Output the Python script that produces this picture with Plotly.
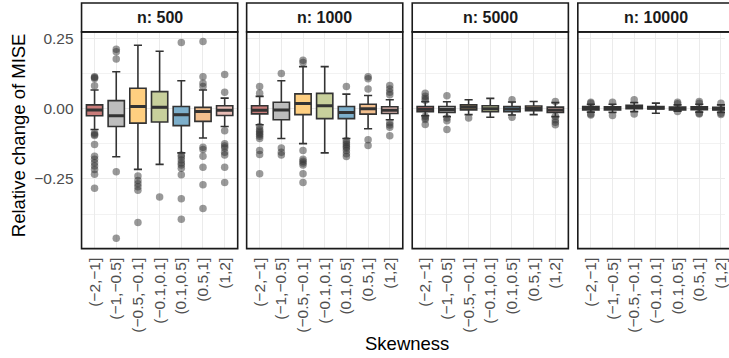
import plotly.graph_objects as go

# Skewness bins on the x axis of every panel
categories = ["(\u22122,\u22121]", "(\u22121,\u22120.5]", "(\u22120.5,\u22120.1]",
              "(\u22120.1,0.1]", "(0.1,0.5]", "(0.5,1]", "(1,2]"]
sample_sizes = [500, 1000, 5000, 10000]
box_colors = ["#C97C7A", "#BDBDBD", "#FFCF80", "#C8D09C", "#7DAFCB", "#F2BF8E", "#E8BDB6"]

# Five-number summaries of the relative change of MISE, one list per sample size
q1 = {
    500: [-0.025, -0.063, -0.051, -0.047, -0.060, -0.045, -0.024],
    1000: [-0.018, -0.039, -0.021, -0.035, -0.035, -0.019, -0.017],
    5000: [-0.010, -0.013, -0.004, -0.010, -0.010, -0.007, -0.013],
    10000: [-0.004, -0.004, 0.000, -0.001, -0.004, -0.003, -0.004],
}
median = {
    500: [-0.004, -0.025, 0.008, 0.005, -0.021, -0.010, -0.005],
    1000: [-0.005, -0.004, 0.019, 0.011, -0.013, 0.000, -0.005],
    5000: [-0.002, -0.003, 0.005, 0.000, -0.001, 0.001, -0.004],
    10000: [0.002, 0.001, 0.005, 0.003, 0.001, 0.002, 0.000],
}
q3 = {
    500: [0.014, 0.029, 0.073, 0.061, 0.008, 0.005, 0.011],
    1000: [0.011, 0.023, 0.053, 0.055, 0.008, 0.016, 0.007],
    5000: [0.008, 0.008, 0.014, 0.011, 0.008, 0.010, 0.006],
    10000: [0.008, 0.007, 0.012, 0.008, 0.006, 0.007, 0.005],
}
whisker_low = {
    500: [-0.074, -0.171, -0.216, -0.198, -0.157, -0.104, -0.063],
    1000: [-0.057, -0.106, -0.124, -0.157, -0.106, -0.071, -0.039],
    5000: [-0.025, -0.028, -0.021, -0.030, -0.022, -0.021, -0.028],
    10000: [-0.012, -0.013, -0.010, -0.016, -0.009, -0.012, -0.013],
}
whisker_high = {
    500: [0.067, 0.132, 0.226, 0.205, 0.100, 0.067, 0.038],
    1000: [0.044, 0.100, 0.150, 0.150, 0.052, 0.047, 0.032],
    5000: [0.025, 0.025, 0.032, 0.037, 0.024, 0.026, 0.022],
    10000: [0.016, 0.016, 0.022, 0.020, 0.014, 0.016, 0.014],
}

# Outlying values per sample size, one list per skewness bin
outliers = {
    500: [
        [0.114, 0.111, 0.108, 0.082, -0.086, -0.092, -0.095, -0.127, -0.169, -0.180,
         -0.192, -0.204, -0.216, -0.233, -0.283],
        [0.212, 0.203, 0.177, -0.224, -0.461],
        [-0.239, -0.255, -0.267, -0.278, -0.290, -0.405],
        [-0.314],
        [0.236, -0.165, -0.172, -0.182, -0.193, -0.200, -0.212, -0.235, -0.320, -0.393],
        [0.240, 0.114, 0.091, 0.079, -0.137, -0.145, -0.169, -0.208, -0.271, -0.355],
        [0.122, 0.059, -0.078, -0.125, -0.133, -0.140, -0.155, -0.165, -0.208, -0.263],
    ],
    1000: [
        [0.079, 0.055, -0.063, -0.074, -0.080, -0.086, -0.092, -0.098, -0.106, -0.149,
         -0.163, -0.231],
        [0.126, -0.140, -0.155, -0.165],
        [0.173, 0.165, -0.149, -0.180, -0.187, -0.193, -0.200, -0.231, -0.263],
        [],
        [0.079, -0.113, -0.120, -0.127, -0.134, -0.140, -0.149, -0.160, -0.170],
        [0.114, 0.107, 0.070, -0.110, -0.131],
        [0.083, 0.070, 0.059, 0.050, -0.050, -0.058, -0.066, -0.096],
    ],
    5000: [
        [0.055, 0.045, 0.037, 0.030, -0.027, -0.033, -0.038, -0.056],
        [0.046, -0.033, -0.043, -0.074],
        [-0.033],
        [],
        [0.032, -0.030],
        [],
        [0.026, -0.027, -0.039, -0.048, -0.057],
    ],
    10000: [
        [0.023, 0.020, -0.019, -0.022],
        [0.023, -0.024],
        [0.032, -0.019],
        [],
        [0.023, 0.018, -0.010],
        [0.026, 0.020, -0.016, -0.019],
        [0.020, -0.016, -0.020],
    ],
}

y_ticks = [-0.25, 0.0, 0.25]
y_ticktext = ["\u22120.25", "0.00", "0.25"]
y_minor = [-0.375, -0.125, 0.125]

# ---- page geometry (pixels) ----
W, H = 729, 358
panel_left = [82, 248, 414.5, 581]
panel_width = 157
panel_top, panel_bottom = 30, 248
strip_top = 1
cat_lo, cat_hi = -0.6, len(categories) - 0.4
BOX_WIDTH = 0.75

FONT = "Liberation Sans, Arial, Helvetica, sans-serif"
TICK_SIZE = 15.5
TITLE_SIZE = 18.5
LINE_DARK = "#333333"


def px_x(p):
    return p / W


def px_y(p):
    return 1 - p / H


fig = go.Figure()
layout = dict(
    width=W, height=H,
    margin=dict(l=0, r=0, t=0, b=0),
    paper_bgcolor="white", plot_bgcolor="white",
    showlegend=False,
    font=dict(family=FONT, color="#4D4D4D"),
    shapes=[], annotations=[],
)

for k, n in enumerate(sample_sizes):
    sfx = "" if k == 0 else str(k + 1)
    xref, yref = "x" + sfx, "y" + sfx
    left = panel_left[k]
    right = left + panel_width
    vis_right = min(right, W)
    x_range_hi = cat_lo + (cat_hi - cat_lo) * (vis_right - left) / panel_width

    layout["xaxis" + sfx] = dict(
        domain=[px_x(left), px_x(vis_right)], anchor=yref,
        range=[cat_lo, x_range_hi],
        tickmode="array", tickvals=list(range(len(categories))), ticktext=categories,
        tickangle=-90, tickfont=dict(family=FONT, size=TICK_SIZE, color="#4D4D4D"),
        ticklabeloverflow="allow", ticklabelstandoff=5,
        showgrid=True, gridcolor="#EBEBEB", gridwidth=1.1, zeroline=False,
        showline=False, ticks="", fixedrange=True,
    )
    layout["yaxis" + sfx] = dict(
        domain=[px_y(panel_bottom), px_y(panel_top)], anchor=xref,
        range=[-0.498, 0.274],
        tickmode="array", tickvals=y_ticks, ticktext=y_ticktext,
        showticklabels=(k == 0), ticklabelstandoff=7,
        tickfont=dict(family=FONT, size=TICK_SIZE, color="#4D4D4D"),
        showgrid=True, gridcolor="#EBEBEB", gridwidth=1.1, zeroline=False,
        minor=dict(tickmode="array", tickvals=y_minor, showgrid=True,
                   gridcolor="#F2F2F2", gridwidth=0.6),
        showline=False, ticks="", fixedrange=True,
    )

    for i, cat in enumerate(categories):
        fig.add_trace(go.Box(
            x=[i], q1=[q1[n][i]], median=[median[n][i]], q3=[q3[n][i]],
            lowerfence=[whisker_low[n][i]], upperfence=[whisker_high[n][i]],
            width=BOX_WIDTH, fillcolor=box_colors[i],
            line=dict(color=LINE_DARK, width=1.6),
            boxpoints=False, xaxis=xref, yaxis=yref, hoverinfo="skip",
        ))

    # heavier median bars across each box
    mx, my = [], []
    for i, m in enumerate(median[n]):
        mx += [i - BOX_WIDTH / 2, i + BOX_WIDTH / 2, None]
        my += [m, m, None]
    fig.add_trace(go.Scatter(
        x=mx, y=my, mode="lines", line=dict(color=LINE_DARK, width=3),
        xaxis=xref, yaxis=yref, hoverinfo="skip",
    ))

    ox, oy = [], []
    for i, vals in enumerate(outliers[n]):
        ox += [i] * len(vals)
        oy += vals
    fig.add_trace(go.Scatter(
        x=ox, y=oy, mode="markers",
        marker=dict(color="rgba(51,51,51,0.5)", size=7.5, line=dict(width=0)),
        xaxis=xref, yaxis=yref, hoverinfo="skip",
    ))

    # panel border
    layout["shapes"].append(dict(
        type="rect", xref="paper", yref="paper",
        x0=px_x(left), x1=px_x(right), y0=px_y(panel_bottom), y1=px_y(panel_top),
        line=dict(color="#1A1A1A", width=1.6), fillcolor="rgba(0,0,0,0)", layer="above",
    ))
    # strip
    layout["shapes"].append(dict(
        type="rect", xref="paper", yref="paper",
        x0=px_x(left), x1=px_x(right), y0=px_y(panel_top), y1=px_y(strip_top),
        line=dict(color="#1A1A1A", width=1.6), fillcolor="white", layer="above",
    ))
    layout["annotations"].append(dict(
        text=f"<b>n: {n}</b>", xref="paper", yref="paper",
        x=px_x((left + right) / 2), y=px_y((strip_top + panel_top) / 2),
        xanchor="center", yanchor="middle", showarrow=False,
        font=dict(family=FONT, size=16, color="#1A1A1A"),
    ))

# axis titles
layout["annotations"].append(dict(
    text="Relative change of MISE", xref="paper", yref="paper",
    x=px_x(18), y=px_y(134), textangle=-90,
    xanchor="center", yanchor="middle", showarrow=False,
    font=dict(family=FONT, size=TITLE_SIZE, color="black"),
))
layout["annotations"].append(dict(
    text="Skewness", xref="paper", yref="paper",
    x=px_x(409), y=px_y(343),
    xanchor="center", yanchor="middle", showarrow=False,
    font=dict(family=FONT, size=TITLE_SIZE, color="black"),
))

fig.update_layout(**layout)
fig.write_html("out.html")
